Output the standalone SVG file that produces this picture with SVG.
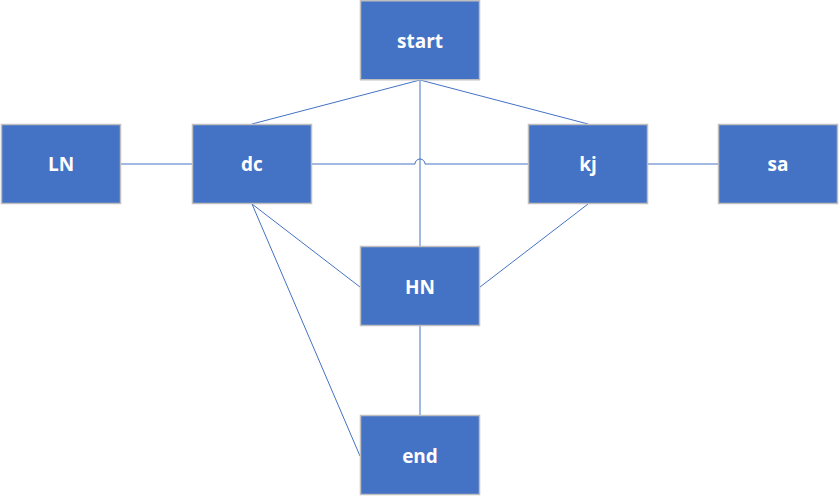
<svg xmlns="http://www.w3.org/2000/svg" width="840" height="496" viewBox="0 0 840 496">
<style>
.n rect{fill:#4472C4;stroke:#BFBFBF;stroke-width:1.5}
.n text{fill:#fff;font-family:"Open Sans","Liberation Sans",sans-serif;font-weight:bold;font-size:19px;text-anchor:middle;dominant-baseline:central}
.c path{fill:none;stroke:#4472C4;stroke-width:1}
</style>
<rect width="840" height="496" fill="#fff"/>
<g class="c" id="connectors">
<path d="M420,80 L252,124"/>
<path d="M420,80 L588,124"/>
<path d="M420,80 L420,246"/>
<path d="M120,164 L193,164"/>
<path d="M312,164 L415,164 A5,5 0 0 1 425,164 L528,164"/>
<path d="M648,164 L718,164"/>
<path d="M252,204 L360,287"/>
<path d="M252,204 L360,456"/>
<path d="M588,204 L480,287"/>
<path d="M420,326 L420,416"/>
</g>
<g class="n" id="start"><rect x="360.5" y="0.75" width="119" height="79"/><text x="420" y="41">start</text></g>
<g class="n" id="LN"><rect x="1.5" y="124.5" width="119" height="79"/><text x="61" y="164">LN</text></g>
<g class="n" id="dc"><rect x="192.5" y="124.5" width="119" height="79"/><text x="252" y="164">dc</text></g>
<g class="n" id="kj"><rect x="528.5" y="124.5" width="119" height="79"/><text x="588" y="164">kj</text></g>
<g class="n" id="sa"><rect x="718.5" y="124.5" width="119" height="79"/><text x="778" y="164">sa</text></g>
<g class="n" id="HN"><rect x="360.5" y="246.5" width="119" height="79"/><text x="420" y="287">HN</text></g>
<g class="n" id="end"><rect x="360.5" y="415.5" width="119" height="79"/><text x="420" y="456">end</text></g>
</svg>
